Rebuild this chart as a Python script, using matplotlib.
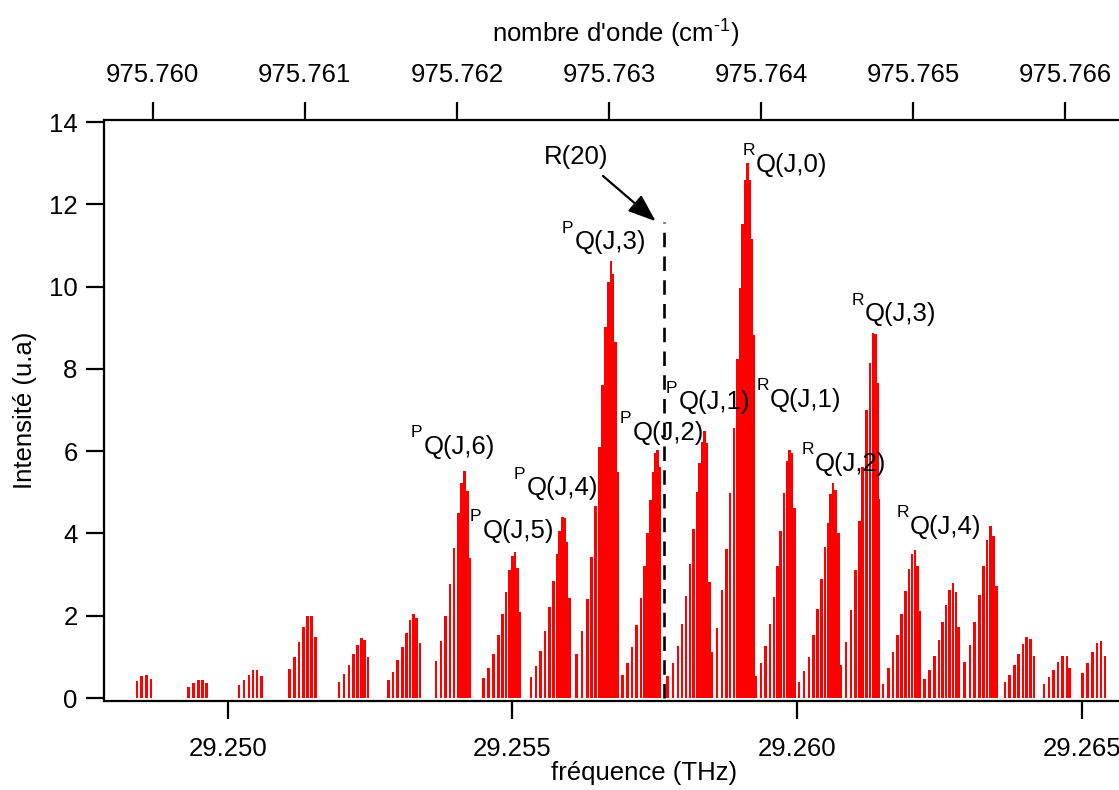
import matplotlib
matplotlib.use("Agg")
import matplotlib.pyplot as plt
import numpy as np

plt.rcParams['font.family'] = ['Liberation Sans', 'DejaVu Sans']
plt.rcParams['mathtext.fontset'] = 'custom'
plt.rcParams['mathtext.rm'] = 'Liberation Sans'
plt.rcParams['mathtext.it'] = 'Liberation Sans'
plt.rcParams['mathtext.default'] = 'regular'

# ---------------- data (frequency in THz, intensity in a.u.) ----------------
freq_c1 = [29.248402, 29.248489, 29.248570, 29.248653]
int_c1 = [0.41, 0.53, 0.57, 0.46]
freq_c2 = [29.249308, 29.249396, 29.249484, 29.249561, 29.249631]
int_c2 = [0.27, 0.36, 0.44, 0.45, 0.36]
freq_c3 = [29.250198, 29.250286, 29.250374, 29.250444, 29.250515, 29.250590]
int_c3 = [0.31, 0.44, 0.56, 0.67, 0.68, 0.53]
freq_c4 = [29.251082, 29.251170, 29.251252, 29.251328, 29.251398, 29.251468, 29.251539]
int_c4 = [0.70, 1.00, 1.37, 1.72, 2.00, 2.00, 1.48]
freq_c5 = [29.251955, 29.252043, 29.252131, 29.252206, 29.252276, 29.252347, 29.252406, 29.252464]
int_c5 = [0.39, 0.58, 0.80, 1.07, 1.30, 1.45, 1.42, 1.00]
freq_c6 = [29.252821, 29.252904, 29.252986, 29.253067, 29.253137, 29.253202, 29.253267, 29.253313, 29.253373]
int_c6 = [0.43, 0.64, 0.92, 1.24, 1.58, 1.89, 2.05, 1.94, 1.33]
# PQ(J,6)
freq_c7 = [29.253659, 29.253747, 29.253829, 29.253905, 29.253975, 29.254051, 29.254103, 29.254163, 29.254216, 29.254256]
int_c7 = [0.91, 1.38, 2.00, 2.76, 3.64, 4.50, 5.22, 5.51, 5.04, 3.40]
# PQ(J,5)
freq_c8 = [29.254490, 29.254578, 29.254665, 29.254753, 29.254823, 29.254888, 29.254946, 29.254999, 29.255047, 29.255087, 29.255122]
int_c8 = [0.49, 0.73, 1.08, 1.52, 2.04, 2.57, 3.10, 3.46, 3.54, 3.16, 2.08]
# PQ(J,4)
freq_c9 = [29.255328, 29.255415, 29.255498, 29.255573, 29.255649, 29.255719, 29.255784, 29.255832, 29.255877, 29.255920, 29.255960, 29.256000]
int_c9 = [0.51, 0.78, 1.15, 1.64, 2.21, 2.84, 3.50, 4.05, 4.39, 4.38, 3.79, 2.43]
# PQ(J,3)
freq_c10 = [29.256130, 29.256224, 29.256317, 29.256387, 29.256457, 29.256527, 29.256587, 29.256640, 29.256685, 29.256728, 29.256768, 29.256808, 29.256843]
int_c10 = [1.07, 1.64, 2.41, 3.44, 4.66, 6.10, 7.61, 9.01, 10.12, 10.62, 10.30, 8.65, 5.49]
# PQ(J,2)
freq_c11 = [29.256931, 29.257019, 29.257102, 29.257184, 29.257255, 29.257318, 29.257377, 29.257430, 29.257476, 29.257518, 29.257553, 29.257594]
int_c11 = [0.55, 0.85, 1.25, 1.78, 2.43, 3.20, 4.01, 4.82, 5.50, 5.96, 6.03, 5.61]
# PQ(J,1)
freq_c12 = [29.257722, 29.257817, 29.257910, 29.257980, 29.258050, 29.258121, 29.258185, 29.258244, 29.258291, 29.258337, 29.258379, 29.258419, 29.258460]
int_c12 = [0.54, 0.84, 1.27, 1.81, 2.48, 3.25, 4.12, 5.00, 5.72, 6.23, 6.48, 6.21, 2.81]
# RQ(J,0)
freq_c13 = [29.258507, 29.258590, 29.258683, 29.258765, 29.258823, 29.258894, 29.258951, 29.258999, 29.259046, 29.259092, 29.259134, 29.259174, 29.259210, 29.259240]
int_c13 = [1.13, 1.71, 2.62, 3.62, 4.98, 6.57, 8.25, 9.97, 11.52, 12.58, 13.00, 12.58, 11.16, 8.82]
# RQ(J,1)
freq_c14 = [29.259275, 29.259368, 29.259443, 29.259526, 29.259596, 29.259654, 29.259714, 29.259772, 29.259824, 29.259872, 29.259912, 29.259953]
int_c14 = [0.54, 0.85, 1.26, 1.81, 2.46, 3.21, 4.05, 4.98, 5.77, 6.04, 5.95, 4.62]
# RQ(J,2)
freq_c15 = [29.260035, 29.260123, 29.260211, 29.260286, 29.260357, 29.260427, 29.260492, 29.260545, 29.260592, 29.260632, 29.260673, 29.260726]
int_c15 = [0.40, 0.65, 1.00, 1.52, 2.17, 2.90, 3.68, 4.25, 4.97, 5.23, 5.05, 4.00]
# RQ(J,3)
freq_c16 = [29.260773, 29.260861, 29.260949, 29.261024, 29.261094, 29.261154, 29.261217, 29.261282, 29.261335, 29.261375, 29.261410, 29.261445]
int_c16 = [0.80, 1.35, 2.13, 3.10, 4.31, 5.62, 6.99, 8.14, 8.87, 8.85, 7.66, 4.83]
# RQ(J,4)
freq_c17 = [29.261511, 29.261604, 29.261686, 29.261762, 29.261839, 29.261902, 29.261967, 29.262020, 29.262068, 29.262113, 29.262155]
int_c17 = [0.35, 0.72, 1.11, 1.54, 2.05, 2.61, 3.14, 3.50, 3.60, 3.21, 2.11]
freq_c18 = [29.262236, 29.262324, 29.262412, 29.262494, 29.262559, 29.262622, 29.262682, 29.262740, 29.262788, 29.262833]
int_c18 = [0.47, 0.69, 1.03, 1.41, 1.84, 2.27, 2.63, 2.79, 2.57, 1.72]
freq_c19 = [29.262946, 29.263034, 29.263121, 29.263202, 29.263273, 29.263337, 29.263395, 29.263448, 29.263501]
int_c19 = [0.87, 1.29, 1.84, 2.50, 3.20, 3.83, 4.17, 3.93, 2.73]
freq_c20 = [29.263654, 29.263736, 29.263817, 29.263894, 29.263970, 29.264035, 29.264098, 29.264163]
int_c20 = [0.38, 0.57, 0.81, 1.07, 1.32, 1.49, 1.44, 1.03]
freq_c21 = [29.264339, 29.264427, 29.264502, 29.264585, 29.264660, 29.264738, 29.264790]
int_c21 = [0.35, 0.51, 0.69, 0.88, 1.03, 1.03, 0.73]
freq_c22 = [29.265011, 29.265099, 29.265187, 29.265269, 29.265340, 29.265410]
int_c22 = [0.60, 0.86, 1.12, 1.34, 1.39, 1.03]

freq_clusters = [freq_c1, freq_c2, freq_c3, freq_c4, freq_c5, freq_c6, freq_c7, freq_c8,
                 freq_c9, freq_c10, freq_c11, freq_c12, freq_c13, freq_c14, freq_c15,
                 freq_c16, freq_c17, freq_c18, freq_c19, freq_c20, freq_c21, freq_c22]
int_clusters = [int_c1, int_c2, int_c3, int_c4, int_c5, int_c6, int_c7, int_c8,
                int_c9, int_c10, int_c11, int_c12, int_c13, int_c14, int_c15,
                int_c16, int_c17, int_c18, int_c19, int_c20, int_c21, int_c22]

# R(20) marker line
r20_freq = 29.257664
r20_height = 11.57

# labels: (superscript, text, frequency of Q left, baseline intensity)
branch_labels = [
    ("P", "Q(J,6)", 29.253448, 5.93),
    ("P", "Q(J,5)", 29.254484, 3.89),
    ("P", "Q(J,4)", 29.255257, 4.93),
    ("P", "Q(J,3)", 29.256101, 10.91),
    ("P", "Q(J,2)", 29.257119, 6.27),
    ("P", "Q(J,1)", 29.257927, 7.02),
    ("R", "Q(J,0)", 29.259280, 12.79),
    ("R", "Q(J,1)", 29.259526, 7.07),
    ("R", "Q(J,2)", 29.260316, 5.52),
    ("R", "Q(J,3)", 29.261194, 9.16),
    ("R", "Q(J,4)", 29.261985, 3.99),
]

bottom_ticks = [29.250, 29.255, 29.260, 29.265]
bottom_ticklabels = ["29.250", "29.255", "29.260", "29.265"]
top_ticks = [975.760, 975.761, 975.762, 975.763, 975.764, 975.765, 975.766]
top_ticklabels = ["975.760", "975.761", "975.762", "975.763", "975.764", "975.765", "975.766"]
y_ticks = [0, 2, 4, 6, 8, 10, 12, 14]

# ---------------- figure ----------------
W, H = 1119, 790
fig = plt.figure(figsize=(W / 100, H / 100), dpi=100)
ax = fig.add_axes([104 / W, (H - 700.5) / H, (W - 104) / W, (700.5 - 120) / H])

FS = 18.5
for fr, it in zip(freq_clusters, int_clusters):
    ax.bar(fr, it, width=4.3e-5, color='#ff0000', linewidth=0, align='center')

ax.set_xlim(29.247827, 29.265656)
ax.set_ylim(-0.06, 14.05)

ax.plot([r20_freq, r20_freq], [0, r20_height], color='black', lw=1.9,
        dashes=(5.5, 3.5), solid_capstyle='butt', dash_capstyle='butt')

ax.annotate('', xy=(29.257517, 11.59), xytext=(29.256592, 12.69),
            arrowprops=dict(arrowstyle='-|>,head_length=0.85,head_width=0.32',
                            mutation_scale=20, lw=1.6, color='black',
                            shrinkA=0, shrinkB=0))
ax.text(29.256118, 12.98, "R(20)", fontsize=FS, ha='center', va='baseline')

for sup, txt, fx, yb in branch_labels:
    ax.text(fx, yb, txt, fontsize=FS, ha='left', va='baseline')
    ax.annotate(sup, xy=(fx, yb), xytext=(-9.5, 12.0), textcoords='offset points',
                fontsize=12.5, ha='left', va='baseline')

# axes styling
for side in ['left', 'bottom']:
    ax.spines[side].set_linewidth(1.6)
ax.spines['right'].set_visible(False)
ax.spines['top'].set_visible(False)

ax.set_xticks(bottom_ticks)
ax.set_xticklabels(bottom_ticklabels)
ax.set_yticks(y_ticks)
ax.tick_params(axis='x', direction='out', length=13, width=1.6, labelsize=FS, pad=13.5)
ax.tick_params(axis='y', direction='out', length=13, width=1.6, labelsize=FS, pad=6)
ax.minorticks_off()

A = 975.760493
B = 0.374416


def f2w(f):
    return A + (np.asarray(f) - 29.25) * B


def w2f(w):
    return 29.25 + (np.asarray(w) - A) / B


secax = ax.secondary_xaxis('top', functions=(f2w, w2f))
secax.set_xticks(top_ticks)
secax.set_xticklabels(top_ticklabels)
secax.tick_params(axis='x', direction='out', length=13, width=1.6, labelsize=FS, pad=11)
secax.spines['top'].set_linewidth(1.6)
secax.minorticks_off()

fig.text(644 / W, 1 - 773 / H, "fréquence (THz)", fontsize=FS, ha='center', va='center')
fig.text(616 / W, 1 - 34 / H, r"nombre d'onde (cm$^{\text{-1}}$)", fontsize=FS, ha='center', va='center')
fig.text(25 / W, 1 - 410 / H, "Intensité (u.a)", fontsize=FS, ha='center', va='center', rotation=90)

fig.savefig("out.png", dpi=100)
